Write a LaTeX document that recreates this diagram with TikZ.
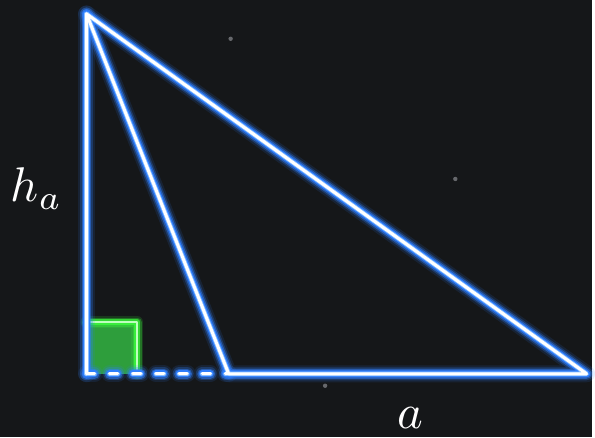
\documentclass[tikz,border=0pt]{standalone}
\usepackage{xcolor}
\definecolor{nightBack}  {HTML}{151719}
\definecolor{glowBlue}   {HTML}{2F7FFF}
\definecolor{coreBlue}   {HTML}{8CC0FF}
\definecolor{glowGreen}  {HTML}{3BFF3B}
\definecolor{rightFill}  {HTML}{2E9E3C}
\definecolor{starGrey}   {HTML}{66686C}
\usetikzlibrary{calc}

\begin{document}
\begin{tikzpicture}[x=1pt, y=-1pt, line join=round, line cap=round]
    % Dark backdrop, same size as the picture.
    \fill[nightBack] (0,0) rectangle (595,440);
    \foreach \sx/\sy in {232/39, 458/180, 327/388} {
        \fill[starGrey] (\sx,\sy) circle (2.2);
    }
    % Triangle corners and the foot of the height.
    \coordinate (apex)  at (87,14);
    \coordinate (foot)  at (87,376);
    \coordinate (baseL) at (230,376);
    \coordinate (baseR) at (590,376);
    \coordinate (sqTop) at ($(foot)+(0,-52)$);
    \coordinate (sqCor) at ($(foot)+(51,-52)$);
    \coordinate (sqEnd) at ($(foot)+(51,0)$);
    % Right-angle mark, drawn under the lines.
    \fill[rightFill] (sqTop) rectangle (sqEnd);
    \foreach \w/\op in {12/0.15, 9/0.3, 6/0.7} {
        \draw[glowGreen, line width=\w pt, opacity=\op] (sqTop) -- (sqCor) -- (sqEnd);
    }
    \draw[green!25!white, line width=2.6pt] (sqTop) -- (sqCor) -- (sqEnd);
    % Glowing lines: wide faint passes first, white core last.
    \foreach \w/\op in {17/0.12, 13/0.25, 10/0.5, 7/0.95} {
        \draw[glowBlue, line width=\w pt, opacity=\op] (apex) -- (baseL) -- (baseR) -- cycle;
        \draw[glowBlue, line width=\w pt, opacity=\op] (apex) -- (foot);
        \draw[glowBlue, line width=\w pt, opacity=\op, dash pattern=on 8pt off 15.3pt] (foot) -- (baseL);
    }
    \draw[coreBlue, line width=4.6pt] (apex) -- (baseL) -- (baseR) -- cycle;
    \draw[coreBlue, line width=4.6pt] (apex) -- (foot);
    \draw[coreBlue, line width=4.6pt, dash pattern=on 8pt off 15.3pt] (foot) -- (baseL);
    \draw[white, line width=3pt] (apex) -- (baseL) -- (baseR) -- cycle;
    \draw[white, line width=3pt] (apex) -- (foot);
    \draw[white, line width=3pt, dash pattern=on 8pt off 15.3pt] (foot) -- (baseL);
    % Labels.
    \node[scale=4.9, text=white, inner sep=0pt, anchor=base west]
        (heightLbl) at (10,203) {$h_a$};
    \node[scale=4.9, text=white, inner sep=0pt, anchor=base west]
        (sideLbl) at (399,431) {$a$};
\end{tikzpicture}
\end{document}
